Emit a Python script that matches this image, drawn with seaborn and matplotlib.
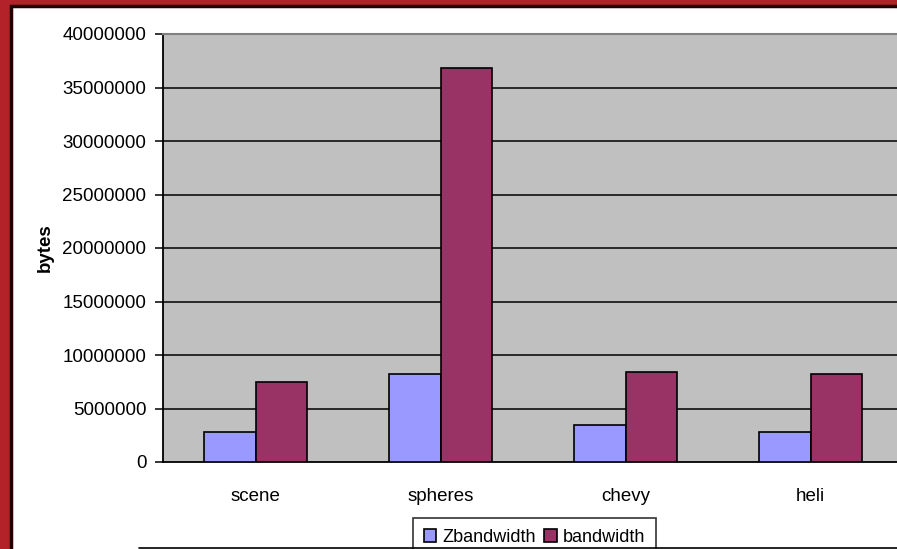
import numpy as np
import pandas as pd
import matplotlib
matplotlib.use("Agg")
import matplotlib.pyplot as plt
from matplotlib.patches import Rectangle
from matplotlib.lines import Line2D
import seaborn as sns

# data
scenes = ["scene", "spheres", "chevy", "heli"]
zbandwidth = [2850000, 8250000, 3450000, 2820000]
bandwidth = [7500000, 36800000, 8400000, 8220000]
series_names = ["Zbandwidth", "bandwidth"]
y_ticks = list(range(0, 40000001, 5000000))

df = pd.DataFrame({
    "scene": scenes * 2,
    "series": [series_names[0]] * 4 + [series_names[1]] * 4,
    "bytes": zbandwidth + bandwidth,
})

sns.set_style("white")
plt.rcParams["font.family"] = ["Liberation Sans", "DejaVu Sans"]
plt.rcParams["text.color"] = "black"
plt.rcParams["xtick.color"] = "black"
plt.rcParams["ytick.color"] = "black"
plt.rcParams["axes.labelcolor"] = "black"

W, H = 897, 549
fig = plt.figure(figsize=(W / 100, H / 100), dpi=100)
fig.patch.set_facecolor("#B22228")

# white chart area with dark inner edge
fig.add_artist(Rectangle((11 / W, -0.1), 1.2, 1 - 6 / H + 0.1, transform=fig.transFigure,
                         facecolor="white", edgecolor="#200000", linewidth=2.5, zorder=0))
fig.add_artist(Line2D([139 / W, 1.0], [1 - 548 / H] * 2, transform=fig.transFigure,
                      color="black", linewidth=1.2))

ax = fig.add_axes([163 / W, (H - 462) / H, 4 * 185 / W, 428 / H])
ax.set_facecolor("#C0C0C0")

sns.barplot(data=df, x="scene", y="bytes", hue="series", order=scenes,
            hue_order=series_names, palette=["#9999FF", "#993366"], saturation=1,
            width=0.56, edgecolor="black", linewidth=1.2, ax=ax, zorder=3)

ax.set_ylim(0, 40000000)
ax.set_xlim(-0.5, 3.5)
ax.set_yticks(y_ticks)
ax.set_yticklabels([str(v) for v in y_ticks], fontsize=13.5)
for v in y_ticks[1:-1]:
    ax.axhline(v, color="black", linewidth=1.1, zorder=1)

ax.set_xticks(range(len(scenes)))
ax.set_xticklabels(scenes, fontsize=13.5)
ax.set_xticks([-0.5, 0.5, 1.5, 2.5], minor=True)
ax.tick_params(axis="x", which="major", length=0, pad=19)
ax.tick_params(axis="x", which="minor", length=6, width=1.1, color="black", direction="out")
ax.tick_params(axis="y", length=6, width=1.1, color="black", direction="out", pad=6, left=True)

ax.set_xlabel("")
ax.set_ylabel("bytes", fontsize=13.5, fontweight="bold", labelpad=6)

for side in ["left", "bottom"]:
    ax.spines[side].set_color("black")
    ax.spines[side].set_linewidth(1.3)
ax.spines["top"].set_color("#808080")
ax.spines["top"].set_linewidth(1.5)
ax.spines["right"].set_visible(False)

handles, labels = ax.get_legend_handles_labels()
leg = ax.legend(handles, labels, loc="upper left", bbox_to_anchor=(413 / W, 1 - 518 / H),
                bbox_transform=fig.transFigure, ncol=2, fontsize=13, frameon=True,
                fancybox=False, edgecolor="black", handlelength=0.7, handleheight=0.7,
                handletextpad=0.3, columnspacing=0.5, borderpad=0.6, borderaxespad=0)
leg.get_frame().set_linewidth(1.2)

fig.savefig("out.png", dpi=100, facecolor=fig.get_facecolor())
